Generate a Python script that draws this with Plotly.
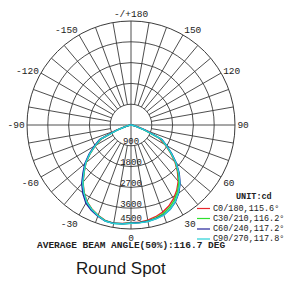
import plotly.graph_objects as go

# ---------------- data ----------------
theta = [-90, -85, -80, -75, -70, -65, -60, -55, -50, -45, -40, -35, -30, -25, -20, -15, -10, -5,
         0, 5, 10, 15, 20, 25, 30, 35, 40, 45, 50, 55, 60, 65, 70, 75, 80, 85, 90]

c0_180 = [0, 30, 90, 300, 750, 1400, 1780, 2160, 2540, 2860, 3230, 3540, 3820, 4010, 4160, 4280, 4310, 4280,
          4230, 4220, 4180, 4110, 4010, 3870, 3680, 3450, 3180, 2840, 2480, 2080, 1700, 1350, 800, 350, 100, 30, 0]
c30_210 = [0, 20, 60, 210, 620, 1440, 1790, 2170, 2550, 2870, 3240, 3550, 3830, 4020, 4170, 4290, 4320, 4290,
           4240, 4240, 4220, 4160, 4080, 3940, 3750, 3510, 3230, 2880, 2510, 2100, 1730, 1420, 580, 200, 60, 20, 0]
c60_240 = [0, 20, 70, 220, 650, 1500, 1850, 2220, 2610, 2940, 3320, 3630, 3900, 4070, 4200, 4300, 4320, 4290,
           4250, 4240, 4230, 4190, 4140, 4020, 3840, 3600, 3310, 2950, 2560, 2150, 1780, 1480, 650, 220, 70, 20, 0]
c90_270 = [0, 20, 60, 200, 600, 1450, 1800, 2180, 2560, 2880, 3250, 3560, 3840, 4030, 4180, 4300, 4330, 4300,
           4250, 4250, 4240, 4200, 4150, 4020, 3830, 3580, 3290, 2920, 2540, 2120, 1750, 1450, 600, 200, 60, 20, 0]

series_names = ["C0/180,115.6°", "C30/210,116.2°", "C60/240,117.2°", "C90/270,117.8°"]
series_values = [c0_180, c30_210, c60_240, c90_270]
series_colors = ["#e8262c", "#2ee02e", "#23239a", "#25d0d6"]

radial_ticks = [900, 1800, 2700, 3600, 4500]
radial_labels = ["900", "1800", "2700", "3600", "4500"]

angle_ticks = [0, 30, 60, 90, 120, 150, 180, 210, 240, 270, 300, 330]
angle_labels = ["0", "30", "60", "90", "120", "150", "-/+180", "-150", "-120", "-90", "-60", "-30"]

unit_text = "UNIT:cd"
beam_text = "AVERAGE BEAM ANGLE(50%):116.7 DEG"
caption = "Round Spot"

# ---------------- figure ----------------
W, H = 285, 282
GRID = "#3a3a3a"
TXT = "#222222"
MONO = "Liberation Mono, DejaVu Sans Mono, monospace"

fig = go.Figure()

# spokes every 10 degrees (starting at first ring), main axes through the center
rmax = radial_ticks[-1]
sp_t, sp_r = [], []
for a in range(0, 360, 10):
    r0 = 0 if a % 90 == 0 else radial_ticks[0]
    sp_t += [a, a, None]
    sp_r += [r0, rmax, None]
fig.add_trace(go.Scatterpolar(theta=sp_t, r=sp_r, mode="lines",
                              line=dict(color=GRID, width=0.9), hoverinfo="skip", showlegend=False))

# radial labels along the 0-degree axis
label_r = [v - 170 for v in radial_ticks]
label_r[-1] = radial_ticks[-1] - 430
fig.add_trace(go.Scatterpolar(theta=[0] * len(radial_ticks), r=label_r, mode="text",
                              text=radial_labels,
                              textfont=dict(family=MONO, size=9, color=TXT),
                              hoverinfo="skip", showlegend=False))

for name, vals, col in zip(series_names, series_values, series_colors):
    fig.add_trace(go.Scatterpolar(theta=theta, r=vals, mode="lines", name=name,
                                  line=dict(color=col, width=1.4), showlegend=False))

fig.update_layout(
    width=W, height=H,
    margin=dict(l=0, r=0, t=0, b=0),
    paper_bgcolor="white",
    polar=dict(
        domain=dict(x=[27 / W, 235 / W], y=[1 - 229 / H, 1 - 21 / H]),
        bgcolor="white",
        angularaxis=dict(rotation=270, direction="counterclockwise",
                         tickmode="array", tickvals=angle_ticks, ticktext=angle_labels,
                         tickfont=dict(family=MONO, size=9.5, color=TXT),
                         showgrid=False, showline=True, linecolor=GRID, linewidth=1,
                         ticks=""),
        radialaxis=dict(range=[0, rmax], tickmode="array", tickvals=radial_ticks,
                        showticklabels=False, ticks="", showline=False,
                        showgrid=True, gridcolor=GRID, gridwidth=0.9),
    ),
    showlegend=False,
)

# legend block (text + colored keys)
ann = []
ann.append(dict(x=254 / W, y=1 - 197 / H, xref="paper", yref="paper", text="<b>" + unit_text + "</b>",
                showarrow=False, font=dict(family=MONO, size=8.5, color=TXT),
                xanchor="center", yanchor="middle"))
rows_y = [208.5, 218.5, 229, 239]
shapes = []
for name, col, yy in zip(series_names, series_colors, rows_y):
    ann.append(dict(x=211 / W, y=1 - yy / H, xref="paper", yref="paper", text=name,
                    showarrow=False, font=dict(family=MONO, size=8.5, color=TXT),
                    xanchor="left", yanchor="middle"))
    shapes.append(dict(type="line", xref="paper", yref="paper",
                       x0=197 / W, x1=210 / W, y0=1 - yy / H, y1=1 - yy / H,
                       line=dict(color=col, width=1.2)))

ann.append(dict(x=131 / W, y=1 - 245 / H, xref="paper", yref="paper", text="<b>" + beam_text + "</b>",
                showarrow=False, font=dict(family=MONO, size=9.5, color=TXT),
                xanchor="center", yanchor="middle"))
ann.append(dict(x=121 / W, y=1 - 268 / H, xref="paper", yref="paper", text=caption,
                showarrow=False, font=dict(family="Liberation Sans, Arial, sans-serif", size=17, color="#1a1a1a"),
                xanchor="center", yanchor="middle"))

fig.update_layout(annotations=ann, shapes=shapes)

fig.write_html("out.html",
               config={"displayModeBar": False, "staticPlot": True},
               post_script="document.body.style.margin='0';document.body.style.overflow='hidden';")
